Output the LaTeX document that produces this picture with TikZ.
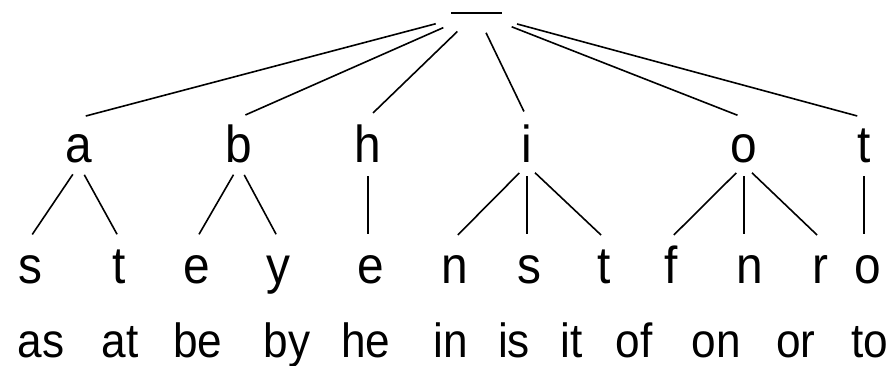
\documentclass[tikz,border=0pt]{standalone}
\usepackage{fontspec}
\setmainfont{Liberation Sans}[FakeStretch=0.92]
\usetikzlibrary{shapes.geometric}

\begin{document}
\begin{tikzpicture}[x=1pt, y=-1pt,
  letter/.style={font=\fontsize{52}{60}\selectfont, anchor=base,
    inner sep=2pt, text height=43pt, text depth=0pt},
  word/.style={font=\fontsize{48}{56}\selectfont, anchor=base, inner sep=0pt},
  rootnode/.style={ellipse, inner sep=0pt, minimum width=96pt, minimum height=40pt,
    path picture={\draw[line width=2.2pt]
      ([xshift=-25.5pt]path picture bounding box.center) --
      ([xshift=25.5pt]path picture bounding box.center);}},
  branch/.style={line width=1.6pt, shorten >=7pt},
  twig/.style={line width=1.6pt, shorten <=11pt, shorten >=4pt}]
  \useasboundingbox (0,0) rectangle (890,366);

  % ---- root ----
  \node[rootnode] (root) at (476.5,13) {};

  % ---- first letters ----
  \node[letter] (a) at (79,163) {a};
  \node[letter] (b) at (239,163) {b};
  \node[letter] (h) at (368,163) {h};
  \node[letter] (i) at (527,163) {i};
  \node[letter] (o) at (744,163) {o};
  \node[letter] (t) at (864,163) {t};

  % ---- second letters ----
  \node[letter] (a-s) at (30,283) {s};
  \node[letter] (a-t) at (119,283) {t};
  \node[letter] (b-e) at (197,283) {e};
  \node[letter] (b-y) at (278,283) {y};
  \node[letter] (h-e) at (371,283) {e};
  \node[letter] (i-n) at (455,283) {n};
  \node[letter] (i-s) at (529,283) {s};
  \node[letter] (i-t) at (604,283) {t};
  \node[letter] (o-f) at (671,283) {f};
  \node[letter] (o-n) at (750,283) {n};
  \node[letter] (o-r) at (820,283) {r};
  \node[letter] (t-o) at (868,283) {o};

  % ---- words ----
  \node[word] (as) at (41,357) {as};
  \node[word] (at) at (120,357) {at};
  \node[word] (be) at (198,357) {be};
  \node[word] (by) at (287,357) {by};
  \node[word] (he) at (366,357) {he};
  \node[word] (in) at (451,357) {in};
  \node[word] (is) at (514,357) {is};
  \node[word] (it) at (572,357) {it};
  \node[word] (of) at (634,357) {of};
  \node[word] (on) at (716,357) {on};
  \node[word] (or) at (796,357) {or};
  \node[word] (to) at (870,357) {to};

  % ---- root to first letters ----
  \draw[branch] (root) -- (a.north);
  \draw[branch] (root) -- (b.north);
  \draw[branch] (root) -- (h.north);
  \draw[branch] (root) -- (i.north);
  \draw[branch] (root) -- (o.north);
  \draw[branch] (root) -- (t.north);

  % ---- first to second letters ----
  \draw[twig] (a.south) -- (a-s.north);
  \draw[twig] (a.south) -- (a-t.north);
  \draw[twig] (b.south) -- (b-e.north);
  \draw[twig] (b.south) -- (b-y.north);
  \draw[twig] (h.south) -- (h.south |- h-e.north);
  \draw[twig] (i.south) -- (i-n.north);
  \draw[twig] (i.south) -- (i.south |- i-s.north);
  \draw[twig] (i.south) -- (i-t.north);
  \draw[twig] (o.south) -- (o-f.north);
  \draw[twig] (o.south) -- (o.south |- o-n.north);
  \draw[twig] (o.south) -- (o-r.north);
  \draw[twig] (t.south) -- (t.south |- t-o.north);
\end{tikzpicture}
\end{document}
